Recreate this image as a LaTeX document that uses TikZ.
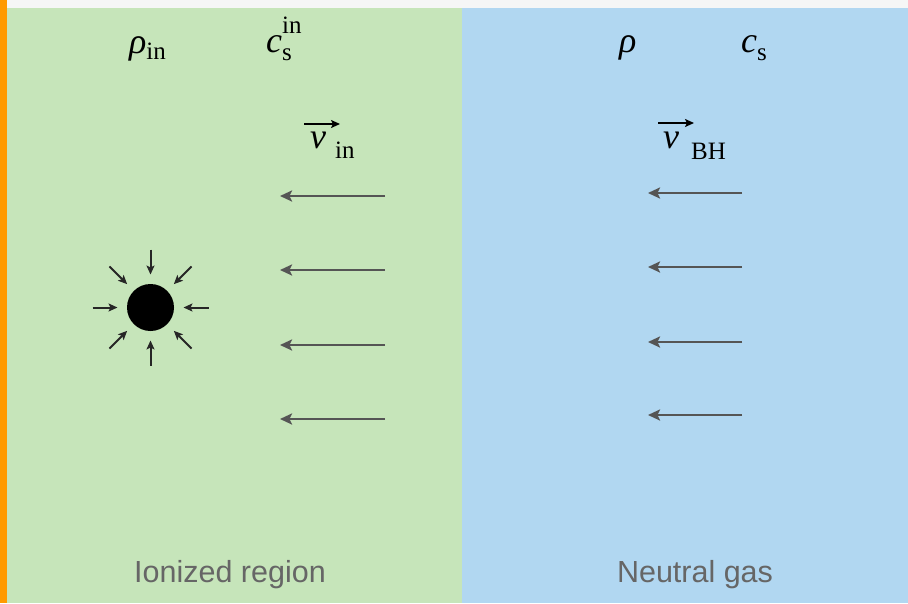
\documentclass[tikz,border=0pt]{standalone}
\usepackage{fontspec}
\setmainfont{Liberation Serif}
\newfontfamily\labelfont{Liberation Sans}
\usetikzlibrary{arrows.meta,calc}
\definecolor{ionized}{HTML}{C6E5BA}
\definecolor{neutral}{HTML}{B1D7F1}
\definecolor{edgeorange}{HTML}{FF9A00}
\definecolor{topstrip}{HTML}{F5F6F6}
\definecolor{flowgray}{HTML}{555555}
\definecolor{captiongray}{HTML}{666666}
\newcommand\smalltxt[1]{{\fontsize{25}{27}\selectfont #1}}
\begin{document}
\begin{tikzpicture}[x=1pt,y=-1pt,
  sym/.style={inner sep=0pt, anchor=base west, font=\fontsize{36}{38}\selectfont},
  caption/.style={inner sep=0pt, anchor=base, text=captiongray, font=\labelfont\fontsize{30.5}{34}\selectfont},
  flow/.style={draw=flowgray, line width=2.4pt, -{Stealth[length=12pt,width=11pt,inset=2.5pt]}},
  infall/.style={draw=black!85, line width=2pt, -{Stealth[length=9pt,width=8pt,inset=2pt]}},
  vecbar/.style={draw=black, line width=1.8pt, -{Stealth[length=9pt,width=8pt,inset=2pt]}}]
\useasboundingbox (0,0) rectangle (908,603);
% backgrounds
\fill[topstrip] (0,0) rectangle (908,8);
\fill[ionized] (7,8) rectangle (462,603);
\fill[neutral] (462,8) rectangle (908,603);
\fill[edgeorange] (0,0) rectangle (7,603);
% symbols, ionized side
\node[sym] (rhoin) at (129,53) {\itshape ρ\upshape\raisebox{-6pt}{\smalltxt{in}}};
\node[sym] (csin) at (266,52) {\itshape c\upshape\rlap{\raisebox{-8pt}{\smalltxt{s}}}\raisebox{19pt}{\smalltxt{in}}};
\node[sym] (vin) at (310,148) {\itshape v\upshape\hspace{9pt}\raisebox{-10pt}{\smalltxt{in}}};
\coordinate (vinA) at (304,124);
\coordinate (vinB) at (340,124);
\draw[vecbar] (vinA) -- (vinB);
% symbols, neutral side
\node[sym] (rho) at (619,52) {\itshape ρ};
\node[sym] (cs) at (741,52) {\itshape c\upshape\raisebox{-8pt}{\smalltxt{s}}};
\node[sym] (vbh) at (663,148) {\itshape v\upshape\hspace{12pt}\raisebox{-11pt}{\smalltxt{BH}}};
\coordinate (vbhA) at (658,123);
\coordinate (vbhB) at (694,123);
\draw[vecbar] (vbhA) -- (vbhB);
% flow arrows
\foreach \i/\y in {1/196,2/270,3/345,4/419}{
  \coordinate (gs\i) at (385,\y);
  \coordinate (ge\i) at (280,\y);
  \draw[flow] (gs\i) -- (ge\i);
}
\foreach \i/\y in {1/193,2/267,3/342,4/415}{
  \coordinate (bs\i) at (742,\y);
  \coordinate (be\i) at (648,\y);
  \draw[flow] (bs\i) -- (be\i);
}
% black hole
\node[circle, fill=black, inner sep=0pt, minimum size=47pt] (bh) at (150.5,307.5) {};
\foreach \a in {0,45,...,315}{
  \coordinate (ia\a) at ($(bh.center)+(\a:58)$);
  \coordinate (ib\a) at ($(bh.center)+(\a:33)$);
  \draw[infall] (ia\a) -- (ib\a);
}
% captions
\node[caption] (ion) at (230,582) {Ionized region};
\node[caption] (neu) at (695,582) {Neutral gas};
\end{tikzpicture}
\end{document}
